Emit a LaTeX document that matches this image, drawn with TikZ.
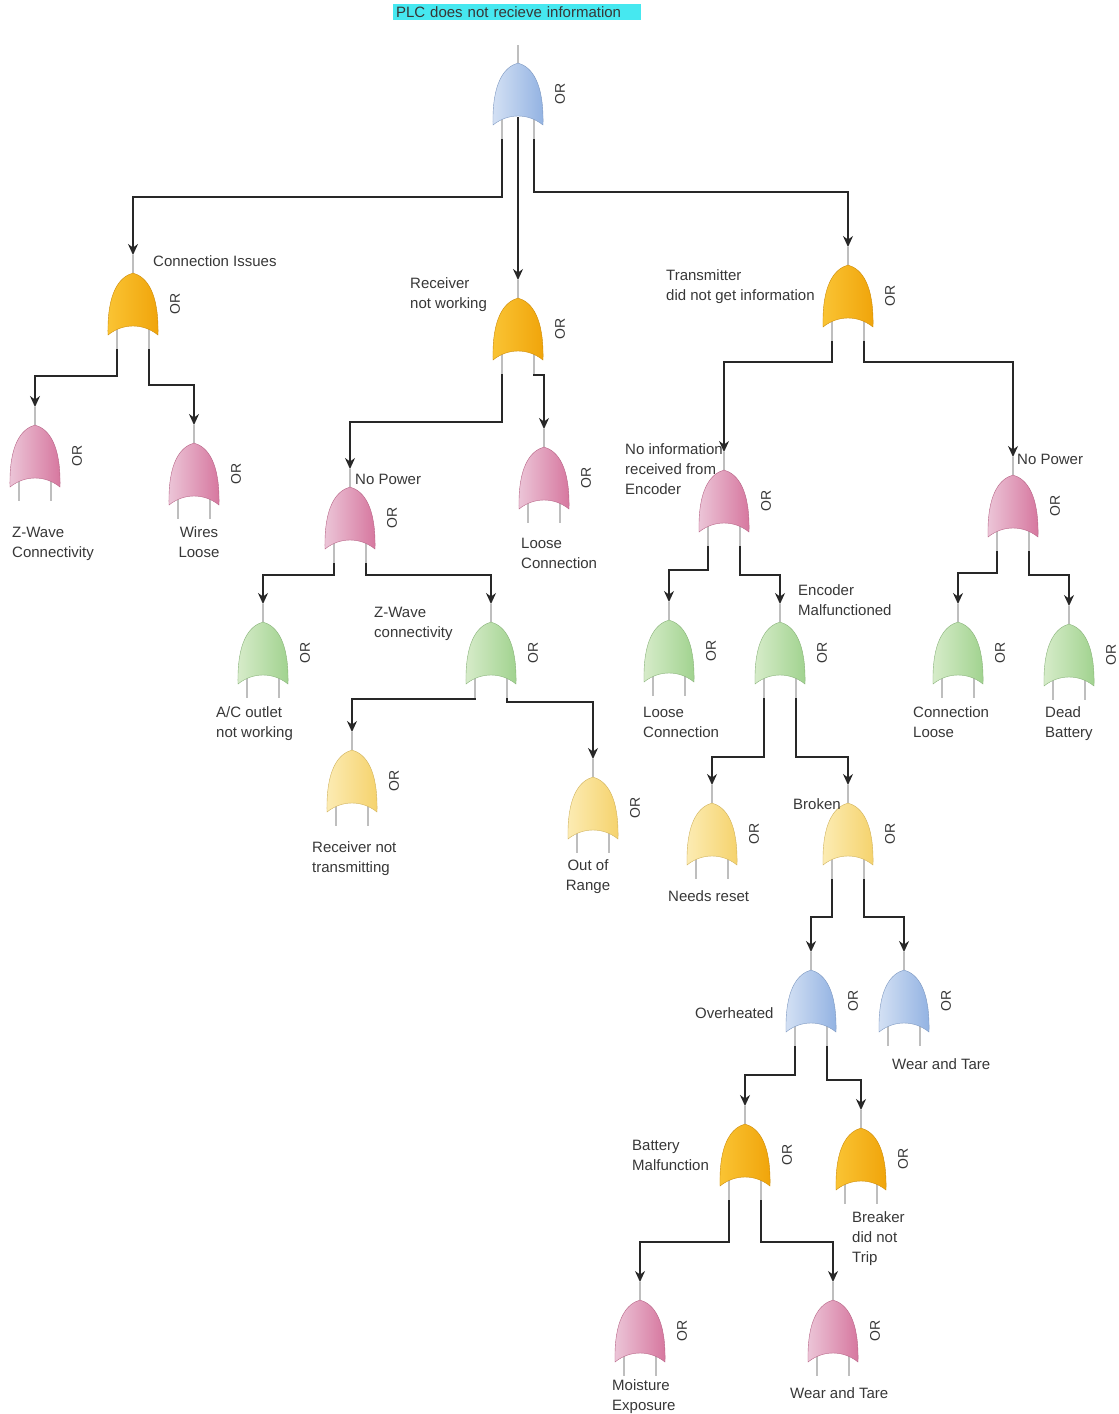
\documentclass[tikz,border=0pt]{standalone}
\usepackage{fontspec}
\setmainfont{Liberation Sans}
\usepackage{xcolor}
\usepackage{tikz}
\usetikzlibrary{arrows.meta,positioning}

\definecolor{linegray}{RGB}{40,40,40}
\definecolor{leggray}{RGB}{190,190,190}
\definecolor{textgray}{RGB}{55,55,55}
\definecolor{titlecyan}{RGB}{70,232,240}
\definecolor{orangeL}{RGB}{250,196,52}
\definecolor{orangeR}{RGB}{240,164,10}
\definecolor{pinkL}{RGB}{236,198,216}
\definecolor{pinkR}{RGB}{214,118,158}
\definecolor{greenL}{RGB}{215,236,202}
\definecolor{greenR}{RGB}{160,210,142}
\definecolor{yellowL}{RGB}{252,236,180}
\definecolor{yellowR}{RGB}{245,210,108}
\definecolor{blueL}{RGB}{212,225,244}
\definecolor{blueR}{RGB}{146,178,226}

\tikzset{
  gateleg/.style={draw=leggray, line width=1.2pt},
  orangegate/.style={left color=orangeL, right color=orangeR, draw=orangeR!85!black, line width=0.4pt},
  pinkgate/.style={left color=pinkL, right color=pinkR, draw=pinkR!85!black, line width=0.4pt},
  greengate/.style={left color=greenL, right color=greenR, draw=greenR!85!black, line width=0.4pt},
  yellowgate/.style={left color=yellowL, right color=yellowR, draw=yellowR!85!black, line width=0.4pt},
  bluegate/.style={left color=blueL, right color=blueR, draw=blueR!85!black, line width=0.4pt},
  orlabel/.style={rotate=90, font=\fontsize{14}{14}\selectfont, text=textgray, inner sep=0pt},
  lbl/.style={font=\fontsize{15}{20}\selectfont, text=textgray, align=left, inner sep=0pt, anchor=base west},
  clbl/.style={lbl, align=center, anchor=base},
  titlebox/.style={fill=titlecyan, font=\fontsize{15}{18}\selectfont, text=textgray,
                   text width=242pt, align=left, inner xsep=3pt, inner ysep=2pt},
  conn/.style={draw=linegray, line width=1.5pt, -{Stealth[length=11pt,width=10pt]}},
  orgate/.pic={
    \draw[gateleg] (0,-18) coordinate (-in) -- (0,0);
    \draw[gateleg] (-16,50) -- (-16,76) coordinate (-l);
    \draw[gateleg] (16,50) -- (16,76) coordinate (-r);
    \path[#1] (-25,62) .. controls (-26,20) and (-14,4) .. (0,0)
              .. controls (14,4) and (26,20) .. (25,62)
              .. controls (10,50) and (-10,50) .. cycle;
    \coordinate (-m) at (0,54);
    \node[orlabel] (-or) at (42,31) {OR};
  }
}

\begin{document}
\begin{tikzpicture}[x=1pt, y=-1pt]
   \useasboundingbox (0,0) rectangle (1119,1414);

   \node[titlebox] (title) at (517,12) {PLC does not recieve information};

   % gates
   \pic (top) at (518,63) {orgate=bluegate};
   \pic (ci)  at (133,273) {orgate=orangegate};
   \pic (rnw) at (518,298) {orgate=orangegate};
   \pic (tx)  at (848,265) {orgate=orangegate};
   \pic (zw1) at (35,425) {orgate=pinkgate};
   \pic (wl)  at (194,443) {orgate=pinkgate};
   \pic (np1) at (350,487) {orgate=pinkgate};
   \pic (lc1) at (544,447) {orgate=pinkgate};
   \pic (ni)  at (724,470) {orgate=pinkgate};
   \pic (np2) at (1013,475) {orgate=pinkgate};
   \pic (ac)  at (263,622) {orgate=greengate};
   \pic (zw2) at (491,622) {orgate=greengate};
   \pic (lc2) at (669,620) {orgate=greengate};
   \pic (em)  at (780,622) {orgate=greengate};
   \pic (cl)  at (958,622) {orgate=greengate};
   \pic (db)  at (1069,624) {orgate=greengate};
   \pic (rnt) at (352,750) {orgate=yellowgate};
   \pic (oor) at (593,777) {orgate=yellowgate};
   \pic (nr)  at (712,803) {orgate=yellowgate};
   \pic (br)  at (848,803) {orgate=yellowgate};
   \pic (oh)  at (811,970) {orgate=bluegate};
   \pic (wt1) at (904,970) {orgate=bluegate};
   \pic (bm)  at (745,1124) {orgate=orangegate};
   \pic (bdt) at (861,1128) {orgate=orangegate};
   \pic (me)  at (640,1300) {orgate=pinkgate};
   \pic (wt2) at (833,1300) {orgate=pinkgate};

   % labels (base is the last line)
   \node[lbl] (ci-txt)  at (153,266) {Connection Issues};
   \node[lbl] (rnw-txt) at (410,308) {Receiver\\not working};
   \node[lbl] (tx-txt)  at (666,300) {Transmitter\\did not get information};
   \node[lbl] (zw1-txt) at (12,557) {Z-Wave\\Connectivity};
   \node[clbl] (wl-txt) at (199,557) {Wires\\Loose};
   \node[lbl] (np1-txt) at (355,484) {No Power};
   \node[lbl] (lc1-txt) at (521,568) {Loose\\Connection};
   \node[lbl] (ni-txt)  at (625,494) {No information\\received from\\Encoder};
   \node[lbl] (np2-txt) at (1017,464) {No Power};
   \node[lbl] (ac-txt)  at (216,737) {A/C outlet\\not working};
   \node[lbl] (zw2-txt) at (374,637) {Z-Wave\\connectivity};
   \node[lbl] (lc2-txt) at (643,737) {Loose\\Connection};
   \node[lbl] (em-txt)  at (798,615) {Encoder\\Malfunctioned};
   \node[lbl] (cl-txt)  at (913,737) {Connection\\Loose};
   \node[lbl] (db-txt)  at (1045,737) {Dead\\Battery};
   \node[lbl] (rnt-txt) at (312,872) {Receiver not\\transmitting};
   \node[clbl] (oor-txt) at (588,890) {Out of\\Range};
   \node[lbl] (nr-txt)  at (668,901) {Needs reset};
   \node[lbl] (br-txt)  at (793,809) {Broken};
   \node[lbl] (oh-txt)  at (695,1018) {Overheated};
   \node[lbl] (wt1-txt) at (892,1069) {Wear and Tare};
   \node[lbl] (bm-txt)  at (632,1170) {Battery\\Malfunction};
   \node[lbl] (bdt-txt) at (852,1262) {Breaker\\did not\\Trip};
   \node[lbl] (me-txt)  at (612,1410) {Moisture\\Exposure};
   \node[lbl] (wt2-txt) at (790,1398) {Wear and Tare};

   % Define connections
   \draw[conn] (top-l) -- ++(0,58) -| (ci-in);
   \draw[conn] (top-m) -- (rnw-in);
   \draw[conn] (top-r) -- ++(0,53) -| (tx-in);
   \draw[conn] (ci-l) -- ++(0,27) -| (zw1-in);
   \draw[conn] (ci-r) -- ++(0,36) -| (wl-in);
   \draw[conn] (rnw-l) -- ++(0,48) -| (np1-in);
   \draw[conn] (rnw-r) -- ++(0,1) -| (lc1-in);
   \draw[conn] (tx-l) -- ++(0,21) -| (ni-in);
   \draw[conn] (tx-r) -- ++(0,21) -| (np2-in);
   \draw[conn] (np1-l) -- ++(0,12) -| (ac-in);
   \draw[conn] (np1-r) -- ++(0,12) -| (zw2-in);
   \draw[conn] (ni-l) -- ++(0,24) -| (lc2-in);
   \draw[conn] (ni-r) -- ++(0,29) -| (em-in);
   \draw[conn] (np2-l) -- ++(0,22) -| (cl-in);
   \draw[conn] (np2-r) -- ++(0,24) -| (db-in);
   \draw[conn] (zw2-l) -- ++(0,1) -| (rnt-in);
   \draw[conn] (zw2-r) -- ++(0,4) -| (oor-in);
   \draw[conn] (em-l) -- ++(0,59) -| (nr-in);
   \draw[conn] (em-r) -- ++(0,59) -| (br-in);
   \draw[conn] (br-l) -- ++(0,38) -| (oh-in);
   \draw[conn] (br-r) -- ++(0,38) -| (wt1-in);
   \draw[conn] (oh-l) -- ++(0,29) -| (bm-in);
   \draw[conn] (oh-r) -- ++(0,34) -| (bdt-in);
   \draw[conn] (bm-l) -- ++(0,42) -| (me-in);
   \draw[conn] (bm-r) -- ++(0,42) -| (wt2-in);
\end{tikzpicture}
\end{document}
